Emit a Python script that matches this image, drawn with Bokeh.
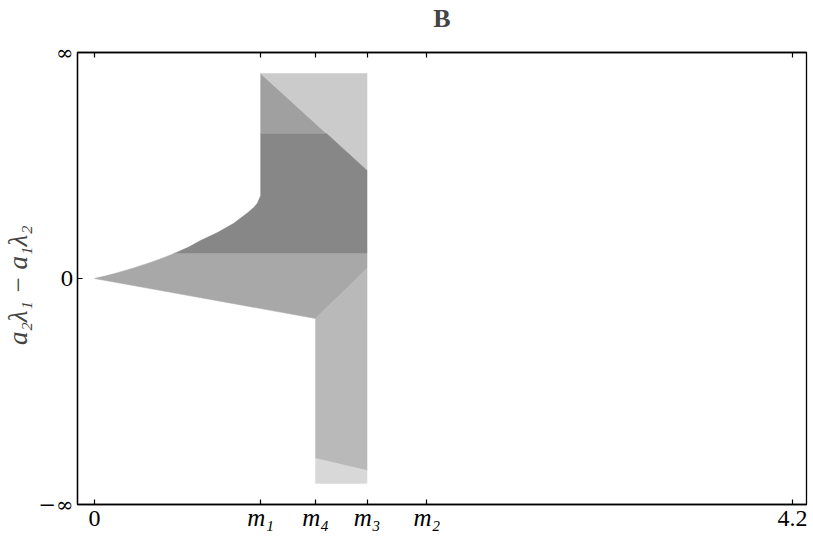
import numpy as np
from bokeh.plotting import figure
from bokeh.models import LinearAxis, FixedTicker, Range1d
from bokeh.embed import file_html
from bokeh.resources import INLINE

# ---- data ----
x_ticks = [0.0, 1.0, 1.33, 1.64, 2.0, 4.2]
x_tick_labels = ["0", "m₁", "m₄", "m₃", "m₂", "4.2"]
y_ticks = [-1.0, 0.0, 1.0]
y_tick_labels = ["−∞", "0", "∞"]
panel_title = "B"

m1, m4, m3, m2 = 1.0, 1.33, 1.64, 2.0
y_top = 0.907
y_bot = -0.907

# upper boundary curve from the origin to m1
curve_x = [0.0, 0.075, 0.15, 0.25, 0.337, 0.42, 0.5, 0.57, 0.638, 0.74, 0.836, 0.92, 0.96, 0.98, 1.0]
curve_y = [0.0, 0.013, 0.028, 0.05, 0.071, 0.093, 0.117, 0.14, 0.168, 0.203, 0.243, 0.29, 0.315, 0.333, 0.367]

band_upper = 0.64    # medium / dark boundary
band_mid = 0.11      # dark / medium boundary
lower_end_y = -0.177  # lower straight edge at m4
diag1_end_y = 0.478  # upper diagonal hits m3
diag2_start_y = 0.044  # lower diagonal starts at m3
bottom_left_y = -0.796
bottom_right_y = -0.85

region_colors = ["#a0a0a0", "#cbcbcb", "#878787", "#a8a8a8", "#b9b9b9", "#d8d8d8"]

# ---- build polygons ----
diag1_x_at_band = m1 + (y_top - band_upper) / (y_top - diag1_end_y) * (m3 - m1)
cx_mid = float(np.interp(band_mid, curve_y, curve_x))
cx = np.array(curve_x); cy = np.array(curve_y)
upper_part = cx > cx_mid
lower_part = cx < cx_mid

xs = [
    [m1, m1, diag1_x_at_band],
    [m1, m3, m3],
    [cx_mid] + list(cx[upper_part]) + [m1, diag1_x_at_band, m3, m3],
    list(cx[lower_part]) + [cx_mid, m3, m3, m4],
    [m3, m4, m4, m3],
    [m4, m3, m3, m4],
]
ys = [
    [y_top, band_upper, band_upper],
    [y_top, y_top, diag1_end_y],
    [band_mid] + list(cy[upper_part]) + [band_upper, band_upper, diag1_end_y, band_mid],
    list(cy[lower_part]) + [band_mid, band_mid, diag2_start_y, lower_end_y],
    [diag2_start_y, lower_end_y, bottom_left_y, bottom_right_y],
    [bottom_left_y, bottom_right_y, y_bot, y_bot],
]

FONT = "Liberation Serif"
SYM_FONT = "DejaVu Serif"

p = figure(width=812, height=538,
           x_range=Range1d(-0.102, 4.284), y_range=Range1d(-1.0, 1.0),
           output_backend="svg", toolbar_location=None,
           x_axis_type=None, y_axis_type=None,
           min_border_left=77, min_border_right=6,
           min_border_top=52, min_border_bottom=34)

p.patches(xs=xs, ys=ys, fill_color=region_colors, line_color=region_colors,
          line_width=0.5)

p.xgrid.visible = False
p.ygrid.visible = False
p.outline_line_color = "black"
p.outline_line_width = 1.3
p.background_fill_color = "white"
p.border_fill_color = "white"

def style_axis(ax):
    ax.axis_line_color = "black"
    ax.axis_line_width = 1.3
    ax.major_tick_in = 5
    ax.major_tick_out = 0
    ax.major_tick_line_width = 1.2
    ax.minor_tick_line_color = None
    ax.major_label_text_font = FONT
    ax.major_label_text_font_size = "24px"
    ax.major_label_text_color = "black"

# bottom axis: numeric labels
xb = LinearAxis(ticker=FixedTicker(ticks=x_ticks))
style_axis(xb)
xb.major_label_overrides = {t: (l if not l.startswith("m") else "") for t, l in zip(x_ticks, x_tick_labels)}
xb.major_label_standoff = 6
p.add_layout(xb, "below")

# second bottom axis: italic m labels, pulled up into the same row
xm = LinearAxis(ticker=FixedTicker(ticks=x_ticks))
style_axis(xm)
xm.axis_line_color = None
xm.major_tick_line_color = None
xm.major_label_overrides = {t: (l if l.startswith("m") else "") for t, l in zip(x_ticks, x_tick_labels)}
xm.major_label_text_font_style = "italic"
xm.major_label_text_font_size = "25px"
xm.major_label_standoff = -25
p.add_layout(xm, "below")

# top axis (mirrored ticks), carrying the panel letter
xt = LinearAxis(ticker=FixedTicker(ticks=x_ticks))
style_axis(xt)
xt.major_label_overrides = {t: "" for t in x_ticks}
xt.major_label_text_font_size = "1px"
xt.major_label_standoff = 0
xt.axis_label = panel_title
xt.axis_label_text_font = FONT
xt.axis_label_text_font_style = "bold"
xt.axis_label_text_font_size = "26px"
xt.axis_label_standoff = 20
p.add_layout(xt, "above")

# left axis
yl = LinearAxis(ticker=FixedTicker(ticks=y_ticks))
style_axis(yl)
yl.major_label_overrides = {t: l for t, l in zip(y_ticks, y_tick_labels)}
yl.major_label_text_font = SYM_FONT
yl.major_label_text_font_size = "21px"
yl.major_label_standoff = 4
yl.axis_label = "a₂λ₁  −  a₁λ₂"
yl.axis_label_text_font = FONT
yl.axis_label_text_font_style = "italic"
yl.axis_label_text_font_size = "27px"
yl.axis_label_standoff = 2
p.add_layout(yl, "left")

open("out.html", "w").write(file_html(p, INLINE))
